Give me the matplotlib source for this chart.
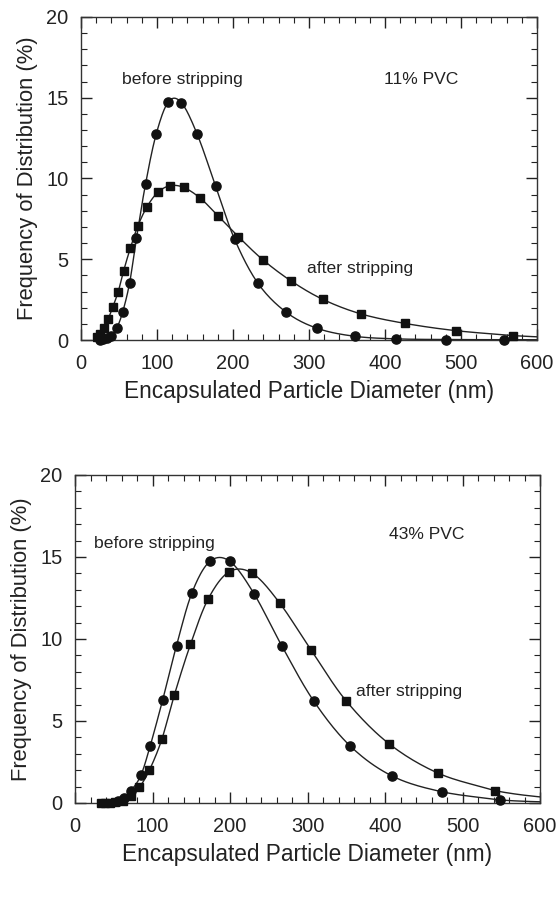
import numpy as np
import matplotlib
matplotlib.use("Agg")
import matplotlib.pyplot as plt
from matplotlib.ticker import MultipleLocator

plt.rcParams['font.family'] = ['Liberation Sans', 'DejaVu Sans']

# 11% PVC panel
x11_before = [25, 29, 34, 40, 47, 55, 64, 73, 85, 99, 115, 132, 153, 177, 202, 233, 270, 311, 360, 415, 480, 556]
y11_before = [0.02, 0.05, 0.1, 0.23, 0.72, 1.76, 3.55, 6.3, 9.68, 12.76, 14.75, 14.7, 12.73, 9.55, 6.25, 3.5, 1.72, 0.72, 0.23, 0.07, 0.03, 0.02]
x11_after = [21, 25, 30, 36, 42, 49, 56, 65, 75, 87, 101, 117, 135, 157, 180, 207, 239, 276, 318, 368, 426, 493, 569]
y11_after = [0.2, 0.4, 0.77, 1.33, 2.07, 3.0, 4.27, 5.7, 7.08, 8.26, 9.14, 9.55, 9.45, 8.78, 7.7, 6.4, 4.98, 3.67, 2.52, 1.62, 1.03, 0.58, 0.27]

# 43% PVC panel
x43_before = [55, 63, 72, 85, 97, 113, 131, 151, 174, 200, 231, 267, 308, 355, 409, 473, 549]
y43_before = [0.1, 0.33, 0.73, 1.69, 3.48, 6.26, 9.6, 12.83, 14.73, 14.73, 12.76, 9.57, 6.22, 3.48, 1.65, 0.69, 0.18]
x43_after = [33, 39, 45, 52, 62, 72, 83, 96, 112, 128, 149, 172, 199, 229, 264, 305, 350, 405, 469, 542]
y43_after = [0.0, 0.0, 0.02, 0.05, 0.13, 0.4, 0.95, 2.0, 3.88, 6.56, 9.67, 12.46, 14.1, 14.0, 12.2, 9.3, 6.22, 3.62, 1.81, 0.75]


def smooth(x, y, xmax=600, n=20):
    # catmull-rom through the points, then an exponential tail to the axis edge
    x = np.asarray(x, float)
    y = np.asarray(y, float)
    px = np.concatenate([[2 * x[0] - x[1]], x, [2 * x[-1] - x[-2]]])
    py = np.concatenate([[2 * y[0] - y[1]], y, [2 * y[-1] - y[-2]]])
    t = np.linspace(0, 1, n, endpoint=False)
    xs, ys = [], []
    for i in range(1, len(px) - 2):
        for p, out in ((px, xs), (py, ys)):
            p0, p1, p2, p3 = p[i - 1], p[i], p[i + 1], p[i + 2]
            out.append(0.5 * (2 * p1 + (-p0 + p2) * t + (2 * p0 - 5 * p1 + 4 * p2 - p3) * t ** 2
                              + (-p0 + 3 * p1 - 3 * p2 + p3) * t ** 3))
    xs = np.concatenate(xs + [[x[-1]]])
    ys = np.concatenate(ys + [[y[-1]]])
    if y[-2] > 0 and y[-1] > 0:
        tx = np.linspace(x[-1], xmax, 15)
        r = y[-1] / y[-2]
        ty = y[-1] * r ** ((tx - x[-1]) / (x[-1] - x[-2]))
        xs = np.concatenate([xs, tx])
        ys = np.concatenate([ys, ty])
    return xs, np.clip(ys, 0, None)


def panel(ax, xb, yb, xa, ya):
    for xx, yy, m in ((xb, yb, 'o'), (xa, ya, 's')):
        sx, sy = smooth(xx, yy)
        ax.plot(sx, sy, color='#222222', lw=1.0, clip_on=True)
        ax.plot(xx, yy, m, color='#111111', ms=6.6 if m == 'o' else 6.0, clip_on=False, zorder=3)
    ax.set_xlim(0, 600)
    ax.set_ylim(0, 20)
    ax.xaxis.set_major_locator(MultipleLocator(100))
    ax.xaxis.set_minor_locator(MultipleLocator(20))
    ax.yaxis.set_major_locator(MultipleLocator(5))
    ax.yaxis.set_minor_locator(MultipleLocator(1))
    ax.tick_params(which='both', direction='in', top=True, right=True, labelsize=14.4, colors='#222222')
    ax.tick_params(which='major', length=8, width=1)
    ax.tick_params(which='minor', length=4, width=0.8)
    ax.tick_params(axis='x', pad=10)
    ax.tick_params(axis='y', pad=9)
    for s in ax.spines.values():
        s.set_color('#333333')
        s.set_linewidth(1.0)
    ax.set_xlabel('Encapsulated Particle Diameter (nm)', fontsize=16.3, color='#222222', labelpad=5)
    ax.set_ylabel('Frequency of Distribution (%)', fontsize=15.8, color='#222222', labelpad=6)


fig = plt.figure(figsize=(5.58, 9.09), dpi=100)
ax1 = fig.add_axes([81 / 558, 1 - 340 / 909, 456 / 558, 323 / 909])
ax2 = fig.add_axes([75 / 558, 1 - 803 / 909, 465 / 558, 328 / 909])

panel(ax1, x11_before, y11_before, x11_after, y11_after)
panel(ax2, x43_before, y43_before, x43_after, y43_after)

tk = dict(fontsize=12.6, color='#222222', va='center')
ax1.text(54, 16.1, 'before stripping', **tk)
ax1.text(399, 16.1, '11% PVC', **tk)
ax1.text(297, 4.4, 'after stripping', **tk)
ax2.text(24, 15.8, 'before stripping', **tk)
ax2.text(405, 16.4, '43% PVC', **tk)
ax2.text(363, 6.8, 'after stripping', **tk)

fig.savefig('out.png', dpi=100)
